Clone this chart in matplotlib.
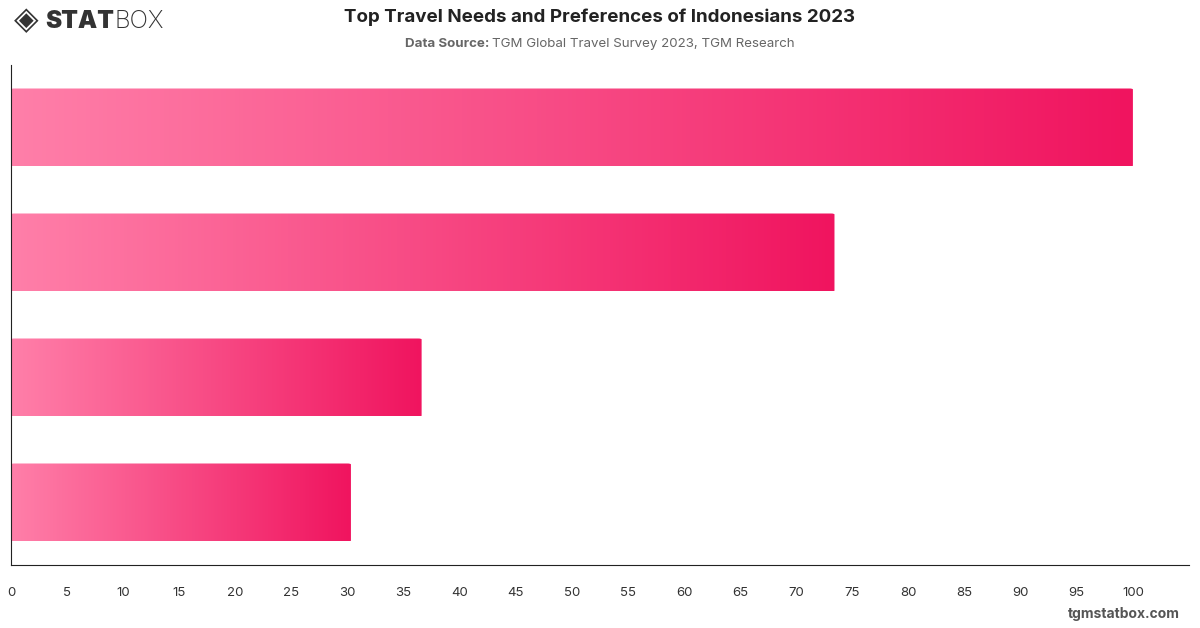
import numpy as np
import matplotlib.pyplot as plt
from matplotlib.colors import LinearSegmentedColormap
from matplotlib.patches import FancyBboxPatch

# data (top to bottom)
categories = ["Need 1", "Need 2", "Need 3", "Need 4"]
values = [100, 73.4, 36.6, 30.3]
xticks = list(range(0, 101, 5))

plt.rcParams["font.family"] = ["Inter", "DejaVu Sans"]

W, H = 1200, 628
fig = plt.figure(figsize=(12, 6.28), dpi=100)
ax = fig.add_axes([11 / W, 63 / H, 1178 / W, 500 / H])

cmap = LinearSegmentedColormap.from_list("pinks", ["#ff7fa9", "#f0145f"])
grad = np.linspace(0, 1, 256).reshape(1, -1)

barHeight = 0.624
for i, v in enumerate(values):
    y = len(values) - 1 - i
    patch = FancyBboxPatch((0, y - barHeight / 2), v, barHeight,
                           boxstyle="round,pad=0,rounding_size=0.3",
                           mutation_aspect=0.025,
                           facecolor="none", edgecolor="none")
    ax.add_patch(patch)
    im = ax.imshow(grad, cmap=cmap, aspect="auto",
                   extent=[0, v, y - barHeight / 2, y + barHeight / 2],
                   zorder=2)
    im.set_clip_path(patch)

ax.set_xlim(0, 105)
ax.set_ylim(-0.5, len(values) - 0.5)
ax.set_xticks(xticks)
ax.set_xticklabels([str(t) for t in xticks], fontsize=9.5, color="#333333")
ax.tick_params(axis="x", length=0, pad=16)
ax.set_yticks([])
for side in ["top", "right"]:
    ax.spines[side].set_visible(False)
ax.spines["left"].set_color("#222222")
ax.spines["bottom"].set_color("#222222")

renderer = fig.canvas.get_renderer()

# header
fig.text(600 / W, 1 - 17 / H, "Top Travel Needs and Preferences of Indonesians 2023",
         ha="center", va="center", fontsize=13.5, fontweight="bold", color="#222222")

subA = fig.text(0, 1 - 44 / H, "Data Source: ", ha="left", va="center",
                fontsize=9.6, fontweight="bold", color="#666666")
subB = fig.text(0, 1 - 44 / H, "TGM Global Travel Survey 2023, TGM Research",
                ha="left", va="center", fontsize=9.6, color="#666666")
wA = subA.get_window_extent(renderer).width
wB = subB.get_window_extent(renderer).width
startX = 600 - (wA + wB) / 2
subA.set_x(startX / W)
subB.set_x((startX + wA) / W)

# logo
fig.text(14 / W, 1 - 21 / H, "\u25c8", ha="left", va="center",
         fontsize=23, color="#333333", family="DejaVu Sans")
stat = fig.text(45 / W, 1 - 21 / H, "STAT", ha="left", va="center",
                fontsize=17.5, fontweight="black", color="#333333")
wStat = stat.get_window_extent(renderer).width
fig.text((45 + wStat + 1) / W, 1 - 21 / H, "BOX", ha="left", va="center",
         fontsize=17.5, fontweight="light", color="#333333")

fig.text(1180 / W, 1 - 614 / H, "tgmstatbox.com", ha="right", va="center",
         fontsize=10, fontweight="bold", color="#555555")

fig.savefig("out.png", dpi=100)
